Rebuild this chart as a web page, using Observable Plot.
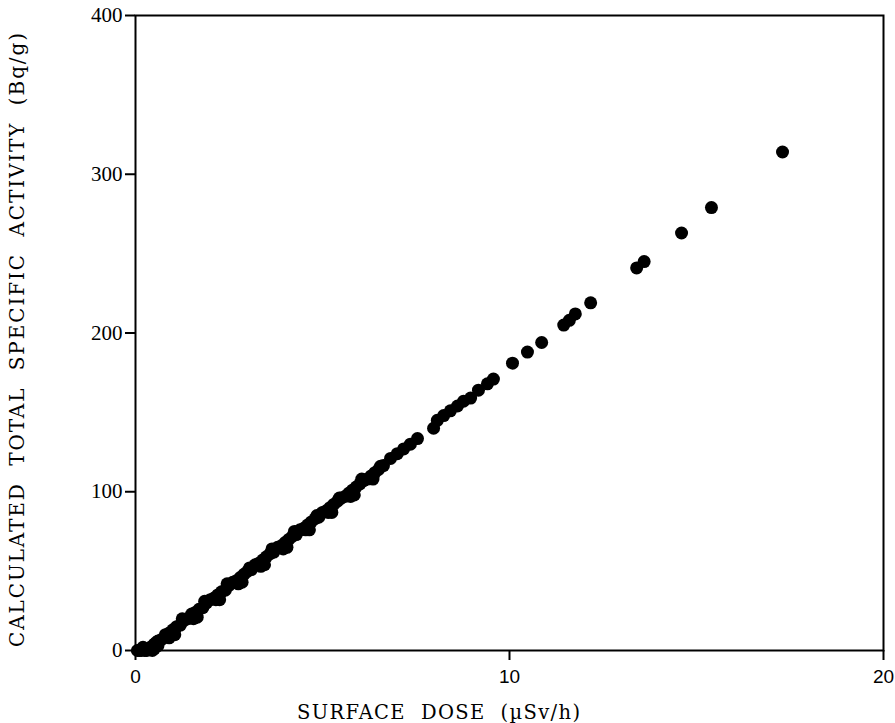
<!DOCTYPE html>
<html>
<head>
<meta charset="utf-8">
<script src="https://cdn.jsdelivr.net/npm/d3@7"></script>
<script src="https://cdn.jsdelivr.net/npm/@observablehq/plot@0.6"></script>
<style>
  html, body { margin: 0; padding: 0; background: #fff; }
  #chart { width: 895px; height: 723px; }
</style>
</head>
<body>
<div id="chart"></div>
<script>
// Surface dose (µSv/h)
const doseX = [
  0.05, 0.1, 0.15, 0.2, 0.25, 0.3, 0.35, 0.4, 0.45, 0.5, 0.55, 0.6, 0.6, 0.7, 0.8, 0.9, 0.9, 1.0, 1.1, 1.2, 1.25,
  1.3, 1.4, 1.5, 1.55, 1.6, 1.7, 1.8, 1.85, 1.9, 2.0, 2.1, 2.15, 2.2, 2.3, 2.4, 2.45, 2.5, 2.6, 2.7, 2.75,
  2.8, 2.9, 3.0, 3.05, 3.1, 3.2, 3.3, 3.35, 3.4, 3.5, 3.6, 3.65, 3.7, 3.8, 3.9, 3.95, 4.0, 4.1, 4.2, 4.25,
  4.3, 4.4, 4.5, 4.55, 4.6, 4.7, 4.8, 4.85, 4.9, 5.0, 5.1, 5.15, 5.2, 5.3, 5.4, 5.45, 5.5, 5.6, 5.7, 5.75,
  5.8, 5.9, 6.0, 6.05, 6.1, 6.2, 6.3, 6.35, 6.4, 6.5, 6.55,
  0.5, 1.05, 1.65, 2.25, 2.85, 3.45, 4.05, 4.65, 5.25, 5.85,
  6.63, 6.82, 7.0, 7.17, 7.35, 7.54,
  7.97, 8.07, 8.24, 8.42, 8.61, 8.77, 8.96, 9.17, 9.41, 9.57,
  10.08, 10.48, 10.86,
  11.45, 11.6, 11.76, 12.17,
  13.4, 13.6, 14.6, 15.4, 17.3
];
// Calculated total specific activity (Bq/g)
const activityY = [
  0, 0, 0, 2, 0, 0, 1, 2, 0, 4, 5, 6, 3, 7, 10, 11, 8, 13, 15, 16, 20,
  19, 20, 23, 20, 24, 26, 27, 31, 30, 32, 33, 32, 35, 37, 38, 42, 41, 43, 44, 42,
  46, 48, 50, 52, 51, 54, 55, 53, 57, 59, 61, 64, 62, 65, 66, 64, 68, 70, 72, 75,
  73, 76, 77, 76, 79, 81, 83, 85, 84, 87, 88, 87, 90, 92, 94, 96, 96, 97, 99, 97,
  101, 103, 105, 108, 107, 108, 110, 108, 112, 114, 116,
  1, 10, 21, 32, 43, 54, 65, 76, 87, 98,
  116.5, 121, 124, 127, 130, 133.5,
  140, 145, 148, 151, 154, 157, 159, 164, 168, 171,
  181, 188, 194,
  205, 208, 212, 219,
  241, 245, 263, 279, 314
];
const xTicks = [0, 10, 20];
const yTicks = [0, 100, 200, 300, 400];
const xLabel = "SURFACE  DOSE  (\u00B5Sv/h)";
const yLabel = "CALCULATED  TOTAL  SPECIFIC  ACTIVITY  (Bq/g)";

const points = doseX.map((x, i) => ({x, y: activityY[i]}));

const chart = Plot.plot({
  width: 895,
  height: 723,
  marginLeft: 135,
  marginRight: 12,
  marginTop: 15,
  marginBottom: 73,
  x: {domain: [0, 20]},
  y: {domain: [0, 400]},
  style: {background: "#fff", color: "#000"},
  marks: [
    Plot.frame({stroke: "#000", strokeWidth: 2}),
    Plot.axisX({ticks: xTicks, tickSize: 10, tickPadding: 9, strokeWidth: 2, label: null,
      fontSize: 19, fontFamily: "Liberation Sans", tickFormat: d => String(d)}),
    Plot.axisY({ticks: yTicks, tickSize: 10, tickPadding: 3, strokeWidth: 2, label: null,
      fontSize: 21, fontFamily: "Liberation Serif", tickFormat: d => String(d)}),
    Plot.dot(points, {x: "x", y: "y", r: 6.5, fill: "#000", stroke: "none"}),
    Plot.text([xLabel], {frameAnchor: "bottom", lineAnchor: "middle", textAnchor: "middle",
      dx: -71, dy: 62, fontSize: 19.5, fontFamily: "DejaVu Serif",
      fill: "#000", text: d => d, className: "xlab"}),
    Plot.text([yLabel], {frameAnchor: "left", lineAnchor: "middle", textAnchor: "middle",
      dx: -118, dy: 7, rotate: -90, fontSize: 20, fontFamily: "DejaVu Serif",
      fill: "#000", text: d => d, className: "ylab"})
  ]
});
d3.select(chart).selectAll(".xlab text").attr("textLength", 283).attr("lengthAdjust", "spacing");
d3.select(chart).selectAll(".ylab text").attr("textLength", 614).attr("lengthAdjust", "spacing");
document.getElementById("chart").appendChild(chart);
</script>
</body>
</html>
